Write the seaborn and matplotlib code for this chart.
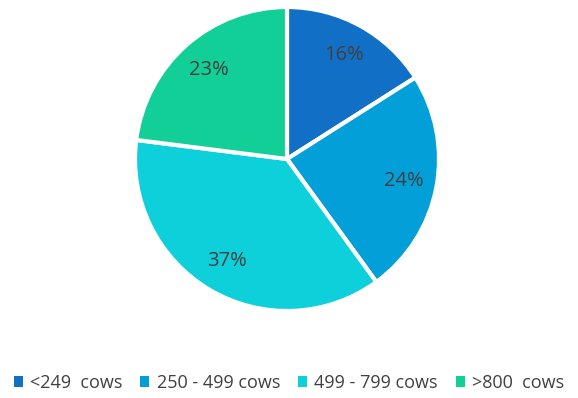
import matplotlib.pyplot as plt
import seaborn as sns
from matplotlib.patches import Patch

# herd size shares
categories = ['<249  cows', '250 - 499 cows', '499 - 799 cows', '>800  cows']
shares = [16, 24, 37, 23]
colors = ['#116FC6', '#039FD8', '#0DD0DA', '#12CF97']

sns.set_theme(style='white')
plt.rcParams['font.family'] = ['Open Sans', 'DejaVu Sans']

fig = plt.figure(figsize=(5.78, 3.98), dpi=100)
W, H = 578, 398
cx, cy, r = 287, 159, 152
ax = fig.add_axes([(cx - r) / W, (H - cy - r) / H, 2 * r / W, 2 * r / H])

wedges, texts, autotexts = ax.pie(
    shares, colors=sns.color_palette(colors), startangle=90, counterclock=False,
    autopct='%d%%', pctdistance=0.78, radius=1,
    wedgeprops=dict(edgecolor='white', linewidth=3),
    textprops=dict(fontsize=14.5, color='#404040'))
ax.set_xlim(-1.0, 1.0)
ax.set_ylim(-1.0, 1.0)
ax.set_aspect('equal')
ax.axis('off')

handles = [Patch(facecolor=c, edgecolor='none') for c in colors]
fig.legend(handles, categories, loc='center', bbox_to_anchor=(0.5, 1 - 383 / H),
           ncol=4, frameon=False, fontsize=13, handlelength=0.5, handleheight=0.5,
           handletextpad=0.4, columnspacing=1.0, labelcolor='#404040')

fig.savefig('out.png', dpi=100)
